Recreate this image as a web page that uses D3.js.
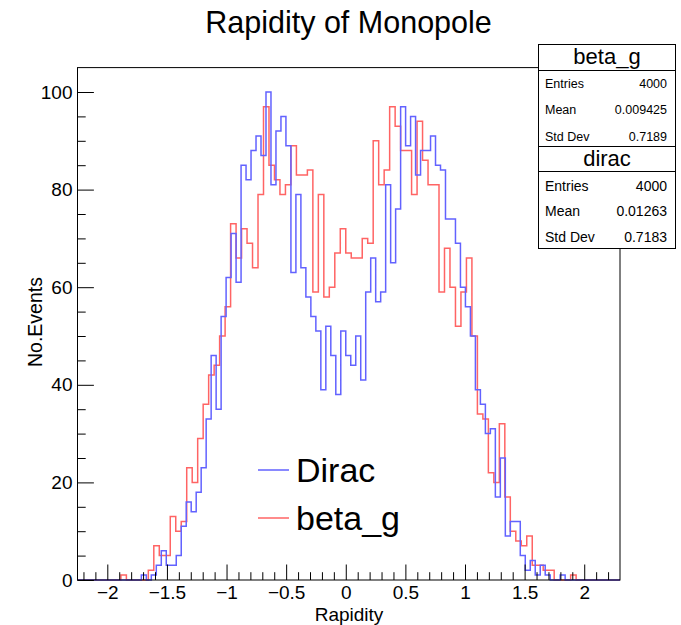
<!DOCTYPE html>
<html>
<head>
<meta charset="utf-8">
<script src="https://cdn.jsdelivr.net/npm/d3@7"></script>
<style>
  html, body { margin: 0; padding: 0; background: #fff; }
  svg { display: block; }
  text { font-family: "Liberation Sans", Arial, Helvetica, sans-serif; fill: #000; }
</style>
</head>
<body>
<div id="chart"></div>
<script>
// ---------------- data ----------------
const chartTitle = "Rapidity of Monopole";
const xAxisTitle = "Rapidity";
const yAxisTitle = "No.Events";

// Dirac: 110 bins on [-2.3, 2.3]
const diracRange = [-2.3, 2.3];
const diracCounts = [
  0,0,0,0,0,0,0,0,0,0,
  0,0,0,0,1,0,1,3,6,3,
  3,5,11,16,14,18,23,33,46,35,
  54,62,71,61,85,82,88,91,87,100,
  81,92,95,89,63,79,64,58,54,51,
  39,52,46,38,51,46,44,50,41,59,
  66,57,59,81,65,76,97,89,95,83,
  88,88,91,85,84,74,74,69,60,56,
  50,39,36,30,31,17,25,9,12,12,
  5,2,4,1,3,1,0,0,1,0,
  0,0,0,0,0,0,0,0,0,0
];

// beta_g: 100 bins on [-2.3, 2.3]
const betaRange = [-2.3, 2.3];
const betaCounts = [
  0,0,0,0,0,0,0,0,0,1,
  0,0,0,0,2,7,5,5,13,10,
  12,23,20,29,36,42,44,50,56,73,
  66,72,69,64,79,97,85,82,79,81,
  89,83,83,84,59,79,58,60,67,72,
  67,66,66,70,69,90,81,84,97,93,
  88,88,79,94,86,81,81,59,68,60,
  52,59,66,50,34,33,22,20,32,17,
  10,8,7,9,3,3,2,2,0,0,
  0,1,0,0,0,0,0,0,0,0
];

const xDomain = [-2.25, 2.3];
const yDomain = [0, 105];
const xMajorTicks = [-2, -1.5, -1, -0.5, 0, 0.5, 1, 1.5, 2];
const xTickLabels = ["\u22122", "\u22121.5", "\u22121", "\u22120.5", "0", "0.5", "1", "1.5", "2"];
const xMinorTicks = [-2.2,-2.1,-1.9,-1.8,-1.7,-1.6,-1.4,-1.3,-1.2,-1.1,-0.9,-0.8,-0.7,-0.6,-0.4,-0.3,-0.2,-0.1,
                     0.1,0.2,0.3,0.4,0.6,0.7,0.8,0.9,1.1,1.2,1.3,1.4,1.6,1.7,1.8,1.9,2.1,2.2];
const yMajorTicks = [0, 20, 40, 60, 80, 100];
const yMinorTicks = [5,10,15,25,30,35,45,50,55,65,70,75,85,90,95];

const legendLabels = ["Dirac", "beta_g"];
const statTitles = ["beta_g", "dirac"];
const statNames = ["Entries", "Mean", "Std Dev"];
const statBeta = ["4000", "0.009425", "0.7189"];
const statDirac = ["4000", "0.01263", "0.7183"];

// ---------------- layout ----------------
const W = 681, H = 625;
const frame = { left: 77.5, right: 620, top: 67.6, bottom: 580 };
const blue = "#6262ff", red = "#ff6464";

const svg = d3.select("#chart").append("svg")
  .attr("width", W).attr("height", H).attr("viewBox", `0 0 ${W} ${H}`);

const x = d3.scaleLinear().domain(xDomain).range([frame.left, frame.right]);
const y = d3.scaleLinear().domain(yDomain).range([frame.bottom, frame.top]);

svg.append("defs").append("clipPath").attr("id", "clip")
  .append("rect").attr("x", frame.left).attr("y", frame.top - 2)
  .attr("width", frame.right - frame.left).attr("height", frame.bottom - frame.top + 4);

function histPath(counts, range) {
  const n = counts.length, w = (range[1] - range[0]) / n;
  const p = d3.path();
  p.moveTo(x(range[0]), y(0));
  counts.forEach((c, i) => {
    p.lineTo(x(range[0] + i * w), y(c));
    p.lineTo(x(range[0] + (i + 1) * w), y(c));
  });
  p.lineTo(x(range[1]), y(0));
  return p.toString();
}

const plot = svg.append("g").attr("clip-path", "url(#clip)");
plot.append("path").attr("d", histPath(betaCounts, betaRange))
  .attr("fill", "none").attr("stroke", red).attr("stroke-width", 1.5);
plot.append("path").attr("d", histPath(diracCounts, diracRange))
  .attr("fill", "none").attr("stroke", blue).attr("stroke-width", 1.5);

// axes
const fs = 19;
svg.append("g").attr("transform", `translate(0,${frame.bottom})`)
  .call(d3.axisBottom(x).tickValues(xMajorTicks).tickSize(-15.5).tickSizeOuter(0).tickPadding(6)
        .tickFormat((d, i) => xTickLabels[i]));
svg.append("g").attr("transform", `translate(0,${frame.bottom})`)
  .call(d3.axisBottom(x).tickValues(xMinorTicks).tickSize(-7.8).tickSizeOuter(0).tickFormat(""));
svg.append("g").attr("transform", `translate(${frame.left},0)`)
  .call(d3.axisLeft(y).tickValues(yMajorTicks).tickSize(-16.4).tickSizeOuter(0).tickPadding(5));
svg.append("g").attr("transform", `translate(${frame.left},0)`)
  .call(d3.axisLeft(y).tickValues(yMinorTicks).tickSize(-8.2).tickSizeOuter(0).tickFormat(""));
svg.selectAll(".domain").remove();
svg.selectAll(".tick line").attr("stroke", "#000").attr("stroke-width", 1);
svg.selectAll(".tick text").attr("font-size", fs)
  .attr("font-family", "'Liberation Sans', Arial, sans-serif").attr("fill", "#000");

// frame
svg.append("rect").attr("x", frame.left).attr("y", frame.top)
  .attr("width", frame.right - frame.left).attr("height", frame.bottom - frame.top)
  .attr("fill", "none").attr("stroke", "#000").attr("stroke-width", 1);

// titles
svg.append("text").attr("x", 348.5).attr("y", 33).attr("text-anchor", "middle")
  .attr("font-size", 30.5).text(chartTitle);
svg.append("text").attr("x", 349).attr("y", 620.5).attr("text-anchor", "middle")
  .attr("font-size", 19).text(xAxisTitle);
svg.append("text").attr("transform", "translate(41.5,322) rotate(-90)").attr("text-anchor", "middle")
  .attr("font-size", 19.5).text(yAxisTitle);

// legend
const legY = [470, 518];
const legCols = [blue, red];
legendLabels.forEach((lab, i) => {
  svg.append("line").attr("x1", 258).attr("x2", 289).attr("y1", legY[i]).attr("y2", legY[i])
    .attr("stroke", legCols[i]).attr("stroke-width", 1.5);
  svg.append("text").attr("x", 296).attr("y", legY[i] + 12).attr("font-size", 34).text(lab);
});

// stat boxes
const box = { left: 538.5, right: 675.5 };
function statBox(top, titleBottom, bottom, title, vals, rowYs, rowFs, titleBase) {
  const g = svg.append("g");
  g.append("rect").attr("x", box.left).attr("y", top).attr("width", box.right - box.left)
    .attr("height", bottom - top).attr("fill", "#fff").attr("stroke", "#000").attr("stroke-width", 1);
  g.append("line").attr("x1", box.left).attr("x2", box.right).attr("y1", titleBottom).attr("y2", titleBottom)
    .attr("stroke", "#000").attr("stroke-width", 1);
  g.append("text").attr("x", (box.left + box.right) / 2).attr("y", titleBase).attr("text-anchor", "middle")
    .attr("font-size", 22).text(title);
  statNames.forEach((nm, i) => {
    g.append("text").attr("x", box.left + 6.5).attr("y", rowYs[i] + rowFs * 0.36)
      .attr("font-size", rowFs).text(nm);
    g.append("text").attr("x", box.right - 8.5).attr("y", rowYs[i] + rowFs * 0.36)
      .attr("text-anchor", "end").attr("font-size", rowFs).text(vals[i]);
  });
}
statBox(44.5, 70.5, 146.5, statTitles[0], statBeta, [83.3, 109.3, 136], 12.5, 63.5);
statBox(146.5, 171.5, 248.5, statTitles[1], statDirac, [186, 211, 236.5], 14, 166);
</script>
</body>
</html>
